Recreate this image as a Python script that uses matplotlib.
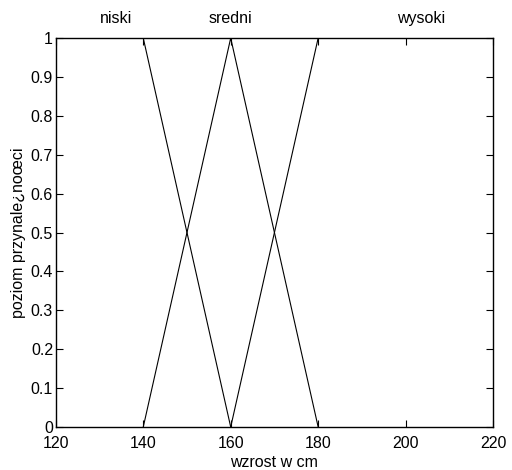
import matplotlib
matplotlib.use("Agg")
import matplotlib.pyplot as plt

plt.rcParams['font.family'] = ['Liberation Sans', 'DejaVu Sans']

# funkcje przynaleznosci (punkty zalamania)
niski_x = [120, 140, 160]
niski_y = [1, 1, 0]
sredni_x = [140, 160, 180]
sredni_y = [0, 1, 0]
wysoki_x = [160, 180, 220]
wysoki_y = [0, 1, 1]

names = ['niski', 'sredni', 'wysoki']
name_x = [130, 155, 198]

xticks = [120, 140, 160, 180, 200, 220]
yticks = [0, 0.1, 0.2, 0.3, 0.4, 0.5, 0.6, 0.7, 0.8, 0.9, 1]

fig = plt.figure(figsize=(5.12, 4.7), dpi=100)
ax = fig.add_axes([0.109, 0.0915, 0.854, 0.8275])
ax.plot(niski_x, niski_y, color='black', lw=0.8)
ax.plot(sredni_x, sredni_y, color='black', lw=0.8)
ax.plot(wysoki_x, wysoki_y, color='black', lw=0.8)

for n, x in zip(names, name_x):
    ax.text(x, 1.05, n, ha='left', va='center', fontsize=11.5, clip_on=False)

ax.set_xlim(120, 220)
ax.set_ylim(0, 1)
ax.set_xticks(xticks)
ax.set_yticks(yticks)
ax.set_yticklabels(['0', '0.1', '0.2', '0.3', '0.4', '0.5', '0.6', '0.7', '0.8', '0.9', '1'])
ax.tick_params(direction='in', top=True, right=True, labelsize=11.5, length=5, width=0.8, pad=2)
ax.tick_params(axis='x', pad=6.5)
for s in ax.spines.values():
    s.set_linewidth(1.0)
ax.set_xlabel('wzrost w cm', fontsize=11.5, labelpad=3)
ax.set_ylabel('poziom przynale¿noœci', fontsize=11.5, labelpad=3)

fig.savefig('out.png', dpi=100)
